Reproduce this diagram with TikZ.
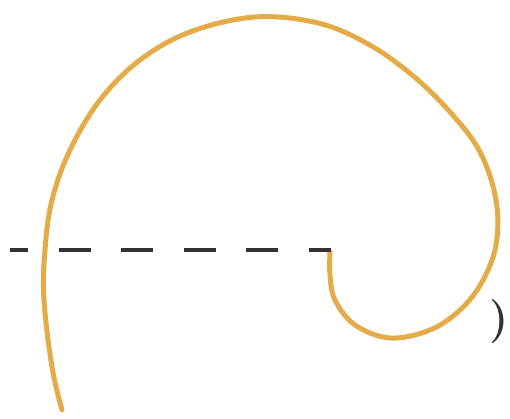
\documentclass[tikz,border=0pt]{standalone}
\begin{document}
\begin{tikzpicture}[x=1pt,y=-1pt,
  spiral/.style={line width=5pt,color=curvegold,line cap=round},
  guide/.style={line width=4pt,color=black!80,dash pattern=on 32pt off 30.5pt,dash phase=14pt}]
\definecolor{curvegold}{RGB}{228,172,72}
\useasboundingbox (0,0) rectangle (510,419);
\draw[spiral] plot[smooth,tension=0.6] coordinates {(62,410) (52,367) (44,300) (45,250) (52,200) (70,150) (100,100) (140,60) (190,32) (255,17) (318,23) (368,44) (412,75) (450,112) (480,152) (496,200) (496,245) (482,282) (460,310) (430,330) (390,338) (355,325) (335,300) (330,275) (330,252)};
\coordinate (dstart) at (10,250);
\coordinate (dend) at (331,250);
\draw[guide] (dstart) -- (dend);
\node[font=\fontsize{44}{48}\selectfont\bfseries,text=black!80,inner sep=0pt,anchor=east] (paren) at (509,322) {)};
\end{tikzpicture}
\end{document}
